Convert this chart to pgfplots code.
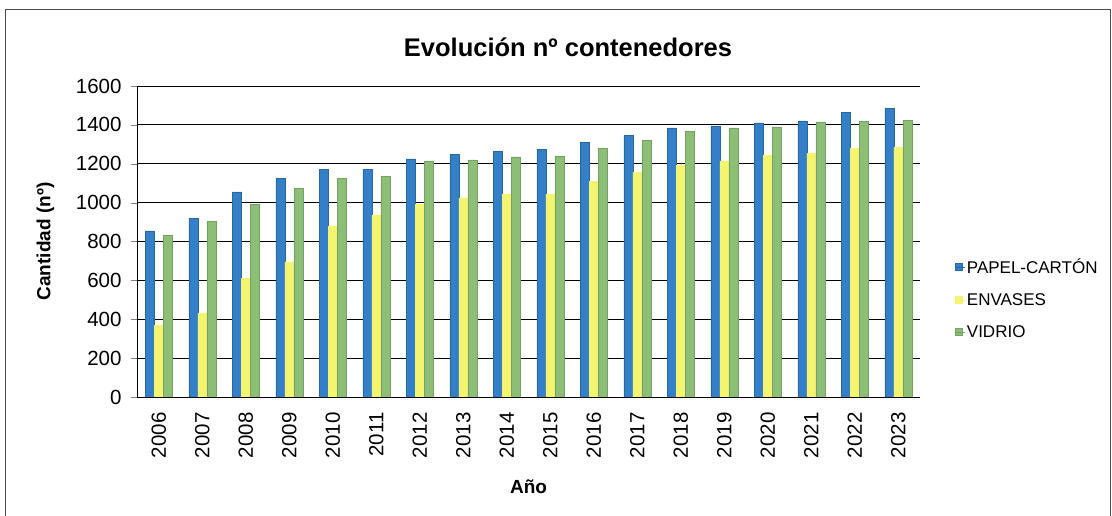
\documentclass[border=0pt]{standalone}
\usepackage{fontspec}
\setmainfont{Liberation Sans}
\usepackage{pgfplots}
\pgfplotsset{compat=1.18}
\definecolor{cblue}{RGB}{52,128,200}
\definecolor{cyellow}{RGB}{244,244,112}
\definecolor{cgreen}{RGB}{140,190,118}
\pgfplotsset{sqleg/.style={/pgfplots/legend image code/.code={\fill[##1] (0pt,-3.5pt) rectangle (7pt,3.5pt); \path (0pt,0pt) -- (10pt,0pt);}}}
\begin{document}
\begin{tikzpicture}[x=1pt,y=1pt]
\useasboundingbox (0,0) rectangle (1112,516);
\draw[black!70, line width=1pt] (5,-5) rectangle (1110,506);
\node[font=\fontsize{25.5}{25.5}\selectfont\bfseries] at (568,469) {Evolución nº contenedores};
\begin{axis}[
  at={(137pt,119pt)}, anchor=south west, scale only axis,
  width=783pt, height=311pt,
  ybar=0pt, bar width=9pt,
  xmin=-0.5, xmax=17.5, ymin=0, ymax=1600,
  xtick={0,...,17},
  xticklabels={2006,2007,2008,2009,2010,2011,2012,2013,2014,2015,2016,2017,2018,2019,2020,2021,2022,2023},
  ytick={0,200,...,1600},
  /pgf/number format/assume math mode=true,
  /pgf/number format/1000 sep={},
  tick label style={font=\fontsize{20.5}{20.5}\selectfont},
  x tick label style={rotate=90, anchor=east, xshift=-6pt},
  yticklabel style={xshift=-6pt},
  major x tick style={draw=none},
  tick align=outside, major tick length=6pt,
  ymajorgrids, grid style={black, line width=0.9pt},
  axis x line*=bottom, axis y line*=left,
  axis line style={black, line width=0.9pt, -},
  ylabel={\bfseries Cantidad (nº)},
  xlabel={\bfseries Año},
  label style={font=\fontsize{19}{19}\selectfont},
  ylabel style={at={(axis description cs:-0.117,0.5)}, anchor=center},
  xlabel style={at={(axis description cs:0.5,-0.289)}, anchor=center},
  legend style={at={(1.04,0.458)}, anchor=north west, draw=none, fill=none,
    font=\fontsize{17}{17}\selectfont, row sep=14.5pt},
  legend cell align=left,
]
\addplot[fill=cblue, draw=cblue!80!black, sqleg] coordinates {
(0,855) (1,920) (2,1055) (3,1125) (4,1170) (5,1170) (6,1225) (7,1250) (8,1265)
(9,1275) (10,1310) (11,1345) (12,1385) (13,1395) (14,1410) (15,1420) (16,1465) (17,1485)};
\addplot[fill=cyellow, draw=cyellow, sqleg] coordinates {
(0,370) (1,430) (2,610) (3,695) (4,880) (5,935) (6,990) (7,1025) (8,1045)
(9,1045) (10,1110) (11,1155) (12,1190) (13,1215) (14,1245) (15,1255) (16,1280) (17,1285)};
\addplot[fill=cgreen, draw=cgreen!85!black, sqleg] coordinates {
(0,830) (1,905) (2,990) (3,1075) (4,1125) (5,1135) (6,1215) (7,1220) (8,1235)
(9,1240) (10,1280) (11,1320) (12,1365) (13,1385) (14,1390) (15,1415) (16,1420) (17,1425)};
\legend{PAPEL-CARTÓN,ENVASES,VIDRIO}
\end{axis}
\end{tikzpicture}
\end{document}
